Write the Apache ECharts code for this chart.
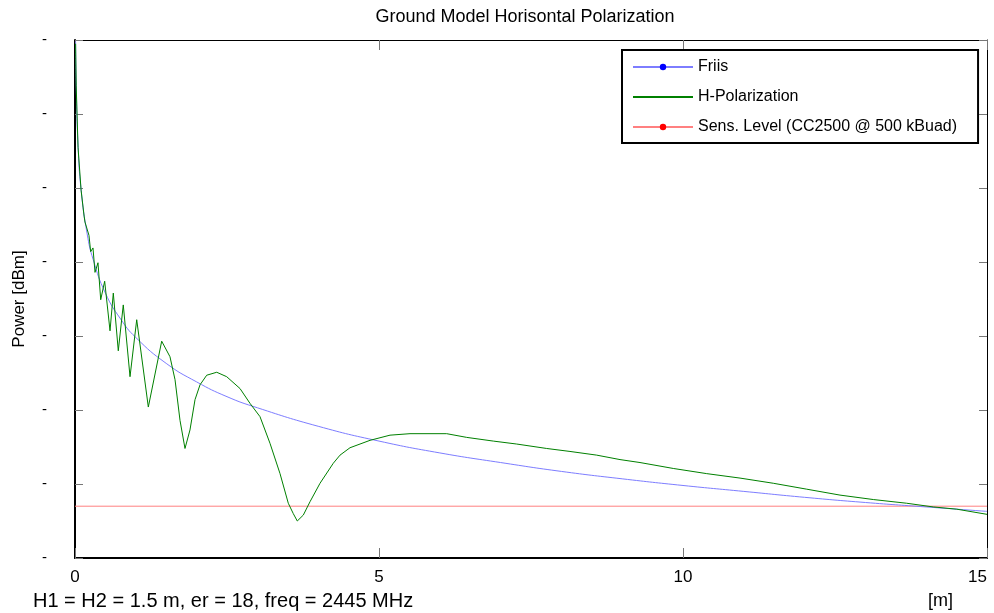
<!DOCTYPE html>
<html lang="en">
<head>
<meta charset="UTF-8">
<title>Ground Model Horisontal Polarization</title>
<script src="https://cdn.jsdelivr.net/npm/echarts@6/dist/echarts.min.js"></script>
</head>
<body style="margin:0;background:#fff">
<div id="main" style="width:994px;height:613px;"></div>
<script>
    // values (distance in m, power in dBm)
    var friisDist = [0.01, 0.02, 0.05, 0.1, 0.2, 0.3, 0.5, 0.75, 1, 1.5, 2, 2.5, 3, 4, 5, 6, 7, 8, 9, 10, 11, 12, 13, 14, 15];
    var friisPower = [-20.2, -26.2, -34.2, -40.2, -46.2, -49.7, -54.2, -57.7, -60.2, -63.7, -66.2, -68.2, -69.7, -72.2, -74.2, -75.8, -77.1, -78.3, -79.3, -80.2, -81.0, -81.8, -82.5, -83.1, -83.7];

    var hpolDist = [0.01, 0.02, 0.05, 0.1, 0.15, 0.164, 0.23, 0.258, 0.296, 0.329, 0.378, 0.423, 0.488, 0.576, 0.63, 0.712, 0.794, 0.905, 1.015, 1.206, 1.426,
        1.562, 1.645, 1.727, 1.809, 1.891, 1.974, 2.056, 2.166, 2.331, 2.495, 2.714, 2.878, 3.043, 3.207, 3.372, 3.508, 3.59, 3.656, 3.755, 3.865,
        4.03, 4.248, 4.359, 4.523, 4.852, 5.181, 5.51, 6.113, 6.442, 6.88, 7.265, 7.758, 8.141, 8.581, 8.964, 9.293, 9.84, 10.39, 10.938, 11.485,
        12.035, 12.582, 13.13, 13.679, 14.117, 14.502, 15];
    var hpolPower = [-20.5, -26.2, -34.5, -40.3, -43.8, -44.6, -46.4, -48.6, -48.1, -51.4, -50.1, -55.1, -52.6, -59.3, -54.2, -62.0, -55.8, -65.5, -57.8, -69.6, -60.7,
        -62.8, -65.9, -71.4, -75.2, -72.7, -68.6, -66.6, -65.3, -64.9, -65.5, -67.1, -69.1, -70.9, -74.5, -78.6, -82.6, -84.0, -85.0, -84.2, -82.4,
        -79.9, -77.2, -76.1, -75.1, -74.1, -73.4, -73.2, -73.2, -73.7, -74.2, -74.6, -75.2, -75.6, -76.1, -76.7, -77.1, -77.9, -78.6, -79.2, -79.9,
        -80.7, -81.5, -82.1, -82.6, -83.1, -83.4, -84.1];

    var sensDist = [0, 15];
    var sensPower = [-83, -83];

    var xTicks = [0, 5, 10, 15];

    function zip(a, b) {
        return a.map(function (v, i) { return [v, b[i]]; });
    }

    var font = 'Liberation Sans, Arial, sans-serif';
    var myChart = echarts.init(document.getElementById('main'));

    var option = {
        animation: false,
        backgroundColor: '#fff',
        textStyle: { fontFamily: font },
        grid: { left: 75, right: 7, top: 40, bottom: 55 },
        legend: {
            orient: 'vertical',
            left: 622,
            top: 50,
            padding: [9, 21, 8, 10],
            itemWidth: 60,
            itemHeight: 8,
            itemGap: 14,
            itemTextGap: 6,
            borderColor: '#000',
            borderWidth: 2,
            backgroundColor: '#fff',
            textStyle: { fontSize: 16, color: '#000', fontFamily: font },
            data: ['Friis', { name: 'H-Polarization', itemStyle: { opacity: 0 } }, 'Sens. Level (CC2500 @ 500 kBuad)']
        },
        xAxis: [{
            type: 'value',
            min: xTicks[0],
            max: xTicks[xTicks.length - 1],
            interval: 5,
            axisLine: { lineStyle: { color: '#000', width: 2 } },
            axisTick: { inside: true, length: 10, lineStyle: { color: '#777' } },
            axisLabel: { fontSize: 17, color: '#000', margin: 11, alignMaxLabel: 'right' },
            splitLine: { show: false }
        }, {
            type: 'value',
            position: 'top',
            min: 0, max: 15, interval: 5,
            axisLine: { onZero: false, lineStyle: { color: '#000', width: 1 } },
            axisTick: { inside: true, length: 10, lineStyle: { color: '#777' } },
            axisLabel: { show: false },
            splitLine: { show: false }
        }],
        yAxis: [{
            type: 'value',
            min: -90,
            max: -20,
            interval: 10,
            name: 'Power [dBm]',
            nameLocation: 'middle',
            nameGap: 47,
            nameTextStyle: { fontSize: 17, color: '#000' },
            axisLine: { show: true, lineStyle: { color: '#000', width: 2 } },
            axisTick: { inside: true, length: 8, lineStyle: { color: '#777' } },
            axisLabel: { fontSize: 15, color: '#000', margin: 28, formatter: function () { return '-'; } },
            splitLine: { show: false }
        }, {
            type: 'value',
            position: 'right',
            min: -90, max: -20, interval: 10,
            axisLine: { show: true, onZero: false, lineStyle: { color: '#000', width: 1 } },
            axisTick: { show: true, inside: true, length: 8, lineStyle: { color: '#777' } },
            axisLabel: { show: false },
            splitLine: { show: false }
        }],
        graphic: [{
            type: 'text',
            x: 525, y: 17,
            style: { text: 'Ground Model Horisontal Polarization', font: '18px ' + font, fill: '#000', align: 'center', verticalAlign: 'middle' }
        }, {
            type: 'text',
            x: 33, y: 601,
            style: { text: 'H1 = H2 = 1.5 m, er = 18, freq = 2445 MHz', font: '20px ' + font, fill: '#000', align: 'left', verticalAlign: 'middle' }
        }, {
            type: 'text',
            x: 928, y: 601,
            style: { text: '[m]', font: '18px ' + font, fill: '#000', align: 'left', verticalAlign: 'middle' }
        }],
        series: [{
            name: 'Friis',
            type: 'line',
            data: zip(friisDist, friisPower),
            smooth: true,
            symbol: 'circle',
            symbolSize: 5,
            showSymbol: false,
            itemStyle: { color: '#0000ff' },
            lineStyle: { color: '#7d7dff', width: 1 },
            z: 2
        }, {
            name: 'H-Polarization',
            type: 'line',
            data: zip(hpolDist, hpolPower),
            symbol: 'none',
            itemStyle: { color: '#008000' },
            lineStyle: { color: '#008000', width: 1 },
            z: 3
        }, {
            name: 'Sens. Level (CC2500 @ 500 kBuad)',
            type: 'line',
            data: zip(sensDist, sensPower),
            symbol: 'circle',
            symbolSize: 5,
            showSymbol: false,
            itemStyle: { color: '#ff0000' },
            lineStyle: { color: '#ff8080', width: 1 },
            z: 1
        }]
    };

    myChart.setOption(option);
</script>
</body>
</html>
